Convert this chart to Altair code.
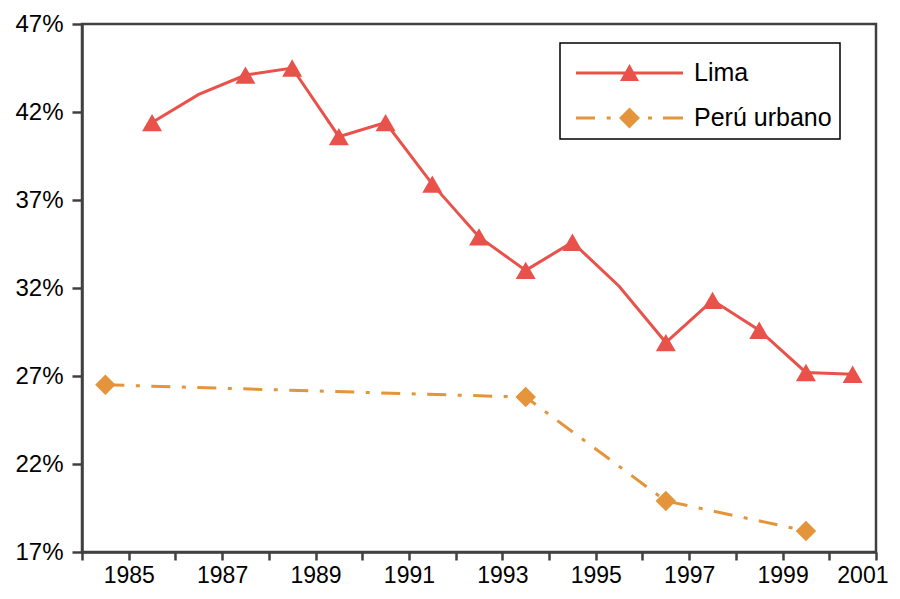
import altair as alt
import pandas as pd

# ---- data ----
lima_years = list(range(1985, 2001))
lima_values = [41.4, 43.0, 44.1, 44.5, 40.6, 41.4, 37.9, 34.9, 33.0, 34.6,
               32.1, 28.9, 31.3, 29.6, 27.2, 27.1]
lima_marked = [True, False, True, True, True, True, True, True, True, True,
               False, True, True, True, True, True]
peru_years = [1984, 1993, 1996, 1999]
peru_values = [26.5, 25.8, 19.9, 18.2]
series_names = ["Lima", "Perú urbano"]
y_ticks = [17, 22, 27, 32, 37, 42, 47]
x_ticks = list(range(1984, 2002))

LIMA = "#E8524A"
PERU = "#E4943A"
AXIS = "#404040"
FONT = "Liberation Sans"

lima = pd.DataFrame({"year": lima_years, "value": lima_values,
                     "marked": lima_marked, "series": series_names[0]})
peru = pd.DataFrame({"year": peru_years, "value": peru_values,
                     "marked": [True] * len(peru_years), "series": series_names[1]})

# ---- legend symbols (line + marker) as custom paths ----
U = 22.0  # half of sqrt(symbolSize)


def rect(x0, x1, y0, y1):
    return (f"M{x0/U:.4f},{y0/U:.4f}L{x1/U:.4f},{y0/U:.4f}"
            f"L{x1/U:.4f},{y1/U:.4f}L{x0/U:.4f},{y1/U:.4f}Z")


cx = 39.5
lima_path = (rect(-14, 93, -1.5, 1.5)
             + f"M{cx/U:.4f},{-9/U:.4f}L{(cx+9.5)/U:.4f},{8/U:.4f}L{(cx-9.5)/U:.4f},{8/U:.4f}Z")
peru_path = (rect(-14, 5, -1.5, 1.5) + rect(16.7, 20.7, -1.5, 1.5)
             + f"M{(cx-10.5)/U:.4f},0L{cx/U:.4f},{-10.5/U:.4f}L{(cx+10.5)/U:.4f},0L{cx/U:.4f},{10.5/U:.4f}Z"
             + rect(58, 62, -1.5, 1.5) + rect(73, 93, -1.5, 1.5))

x_enc = alt.X(
    "xc:Q",
    scale=alt.Scale(domain=[1984, 2001], nice=False, zero=False),
    axis=alt.Axis(values=x_ticks, format="d",
                  labelExpr="datum.value % 2 == 1 ? datum.label : ''",
                  tickSize=8, labelPadding=4, labelOverlap=False,
                  labelFlush=True, labelFlushOffset=12, labelFontSize=23,
                  title=None),
)
y_enc = alt.Y(
    "value:Q",
    scale=alt.Scale(domain=[17, 47], nice=False, zero=False),
    axis=alt.Axis(values=y_ticks, labelExpr="datum.value + '%'",
                  tickSize=10, labelPadding=9, title=None),
)

leg = alt.Legend(title=None, orient="none", legendX=478, legendY=19,
                 symbolSize=U * U * 4, symbolOpacity=1, symbolStrokeWidth=0,
                 labelOffset=82, labelFont=FONT, labelFontSize=25,
                 labelColor="#000000", labelLimit=400, padding=8,
                 rowPadding=10, strokeColor="#000000", fillColor="#ffffff")

all_df = pd.concat([lima, peru], ignore_index=True)

legend_layer = (
    alt.Chart(all_df)
    .transform_calculate(xc="datum.year + 0.5")
    .mark_point(filled=True, opacity=0)
    .encode(
        x=x_enc, y=y_enc,
        color=alt.Color("series:N", scale=alt.Scale(domain=series_names, range=[LIMA, PERU]), legend=leg),
        shape=alt.Shape("series:N", scale=alt.Scale(domain=series_names, range=[lima_path, peru_path]), legend=leg),
    )
)

peru_line = (
    alt.Chart(peru).transform_calculate(xc="datum.year + 0.5")
    .mark_line(color=PERU, strokeWidth=3, strokeDash=[19, 11.5, 4, 11.5])
    .encode(x=x_enc, y=y_enc)
)
peru_pts = (
    alt.Chart(peru).transform_calculate(xc="datum.year + 0.5")
    .mark_point(shape="diamond", filled=True, size=420, color=PERU, opacity=1)
    .encode(x=x_enc, y=y_enc)
)
lima_line = (
    alt.Chart(lima).transform_calculate(xc="datum.year + 0.5")
    .mark_line(color=LIMA, strokeWidth=3)
    .encode(x=x_enc, y=y_enc)
)
lima_pts = (
    alt.Chart(lima).transform_calculate(xc="datum.year + 0.5")
    .transform_filter("datum.marked")
    .mark_point(shape="triangle-up", filled=True, size=400, color=LIMA, opacity=1)
    .encode(x=x_enc, y=y_enc)
)

chart = (
    alt.layer(legend_layer, peru_line, peru_pts, lima_line, lima_pts)
    .properties(width=794, height=528,
                padding={"left": 74, "top": 16, "right": 16, "bottom": 39},
                autosize=alt.AutoSizeParams(type="none"),
                background="#ffffff")
    .configure_view(stroke=AXIS, strokeWidth=2.5)
    .configure_axis(grid=False, domainColor=AXIS, domainWidth=2.5,
                    tickColor=AXIS, tickWidth=2.5, labelFont=FONT,
                    labelFontSize=24, labelColor="#000000")
    .configure_legend(strokeWidth=1.5)
)

chart.save("out.html", embed_options={"renderer": "svg", "actions": False})
